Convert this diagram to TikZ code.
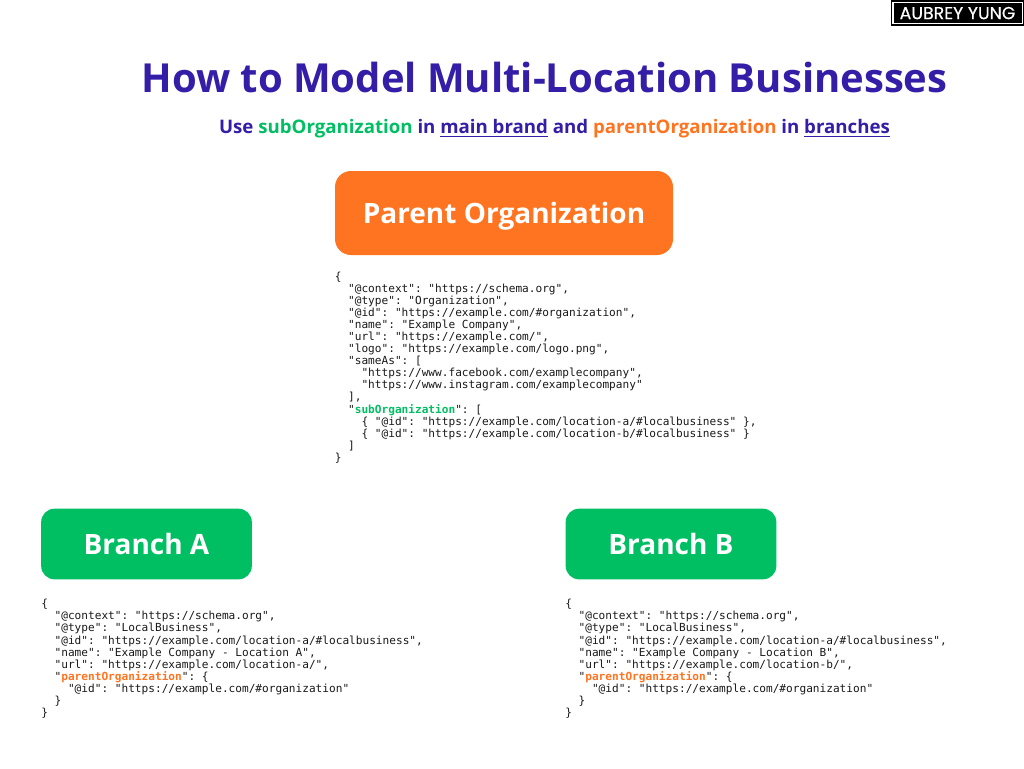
\documentclass[tikz,border=0pt]{standalone}
\usepackage{fontspec}
\setmainfont{Open Sans}
\setmonofont{DejaVu Sans Mono}
\newfontfamily\logofont[FakeBold=0.4]{Poppins}
\definecolor{indigo}{HTML}{341EA8}
\definecolor{brandorange}{HTML}{FF7420}
\definecolor{brandgreen}{HTML}{00BF63}
\newlength{\mycw}
\setlength{\mycw}{5.02pt}
\newcommand{\myind}[1]{\hspace*{#1\mycw}}
\newcommand{\sorg}{\textcolor{brandgreen}{subOrganization}}
\newcommand{\porg}{\textcolor{brandorange}{parentOrganization}}
\newcommand{\csorg}{\textcolor{brandgreen}{\bfseries subOrganization}}
\newcommand{\cporg}{\textcolor{brandorange}{\bfseries parentOrganization}}
\tikzset{
  x=0.75pt,y=-0.75pt,
  titletext/.style={font=\fontsize{30pt}{36pt}\selectfont\bfseries,text=indigo,inner sep=0pt},
  subtext/.style={font=\fontsize{14pt}{17pt}\selectfont\bfseries,text=indigo,inner sep=0pt},
  orangebox/.style={fill=brandorange,rounded corners=12pt,minimum width=253.5pt,minimum height=63pt,inner sep=0pt,text=white,text height=15pt,text depth=0pt,font=\fontsize{21pt}{25pt}\selectfont\bfseries},
  greenbox/.style={fill=brandgreen,rounded corners=10pt,minimum width=158pt,minimum height=53pt,inner sep=0pt,text=white,text height=15pt,text depth=0pt,font=\fontsize{21pt}{25pt}\selectfont\bfseries},
  codetext/.style={font=\fontsize{8.34pt}{9.07pt}\selectfont\ttfamily,align=left,anchor=north west,inner sep=0pt,text=black!90},
  logoframe/.style={draw=black,line width=0.9pt,fill=white,minimum width=99.5pt,minimum height=18pt,inner sep=0pt},
  logotext/.style={fill=black,minimum width=96pt,minimum height=15.5pt,inner sep=0pt,text=white,text height=9.2pt,text depth=0pt,font=\logofont\fontsize{13pt}{15pt}\selectfont},
}
\begin{document}
\begin{tikzpicture}
\useasboundingbox (0,0) rectangle (1024,768);
\fill[white] (0,0) rectangle (1024,768);
\node[logoframe] (frame) at (957.5,13) {};
\node[logotext] (logo) at (957.5,13) {AUBREY YUNG};
\node[titletext] (title) at (544.5,77.5) {How to Model Multi-Location Businesses};
\node[subtext] (subtitle) at (554.5,129) {Use \sorg{} in \underline{main brand} and \porg{} in \underline{branches}};
\node[orangebox] (parent) at (504,213) {Parent Organization};
\node[codetext] (parentcode) at (334.5,271.3) {%
\{\\
\myind{2}"@context": "https://schema.org",\\
\myind{2}"@type": "Organization",\\
\myind{2}"@id": "https://example.com/\#organization",\\
\myind{2}"name": "Example Company",\\
\myind{2}"url": "https://example.com/",\\
\myind{2}"logo": "https://example.com/logo.png",\\
\myind{2}"sameAs": [\\
\myind{4}"https://www.facebook.com/examplecompany",\\
\myind{4}"https://www.instagram.com/examplecompany"\\
\myind{2}],\\
\myind{2}"\csorg": [\\
\myind{4}\{ "@id": "https://example.com/location-a/\#localbusiness" \},\\
\myind{4}\{ "@id": "https://example.com/location-b/\#localbusiness" \}\\
\myind{2}]\\
\}};
\node[greenbox] (brancha) at (146.5,544) {Branch A};
\node[greenbox] (branchb) at (671,544) {Branch B};
\node[codetext] (acode) at (41,599) {%
\{\\
\myind{2}"@context": "https://schema.org",\\
\myind{2}"@type": "LocalBusiness",\\
\myind{2}"@id": "https://example.com/location-a/\#localbusiness",\\
\myind{2}"name": "Example Company - Location A",\\
\myind{2}"url": "https://example.com/location-a/",\\
\myind{2}"\cporg": \{\\
\myind{4}"@id": "https://example.com/\#organization"\\
\myind{2}\}\\
\}};
\node[codetext] (bcode) at (565,599) {%
\{\\
\myind{2}"@context": "https://schema.org",\\
\myind{2}"@type": "LocalBusiness",\\
\myind{2}"@id": "https://example.com/location-a/\#localbusiness",\\
\myind{2}"name": "Example Company - Location B",\\
\myind{2}"url": "https://example.com/location-b/",\\
\myind{2}"\cporg": \{\\
\myind{4}"@id": "https://example.com/\#organization"\\
\myind{2}\}\\
\}};
\end{tikzpicture}
\end{document}
